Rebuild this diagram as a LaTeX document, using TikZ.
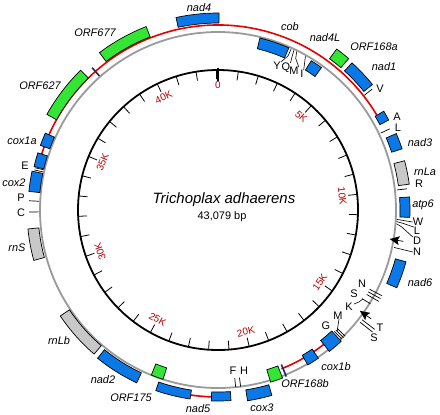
\documentclass[tikz,border=0pt]{standalone}
\usepackage{fontspec}
\setmainfont{Liberation Sans}
\definecolor{gblue}{HTML}{0A78E6}
\definecolor{ggreen}{HTML}{33E633}
\definecolor{grna}{HTML}{C8C8C8}
\definecolor{ringgray}{HTML}{9A9A9A}
\definecolor{ringred}{HTML}{E60000}
\definecolor{kred}{HTML}{B40000}
\definecolor{navybar}{HTML}{1A2A5A}
\newcommand\gb[5]{\filldraw[fill=#1,draw=black,line width=0.7pt] ({#2-90}:#4) arc[start angle={#2-90},end angle={#3-90},radius=#4] -- ({#3-90}:#5) arc[start angle={#3-90},end angle={#2-90},radius=#5] -- cycle;}
\newcommand\redarc[3]{\draw[ringred,line width=1.6pt] ({#1-90}:#3) arc[start angle={#1-90},end angle={#2-90},radius=#3];}
\newcommand\tk[3]{\draw[black,line width=0.7pt] ({#1-90}:#2) -- ({#1-90}:#3);}
\newcommand\amark[1]{\fill[black] ({#1-90}:174) -- ({#1-90+1.4}:184) -- ({#1-90}:182) -- ({#1-90-1.4}:184) -- cycle;
  \draw[black,line width=0.7pt] ({#1-90}:181) -- ({#1-90}:188);}
\begin{document}
\begin{tikzpicture}[x=1bp,y=-1bp,
  gene/.style={font=\fontsize{11}{13}\selectfont\itshape,inner sep=0pt},
  trna/.style={font=\fontsize{11}{13}\selectfont,inner sep=0pt},
  klab/.style={font=\fontsize{10}{12}\selectfont,text=kred,inner sep=0pt},
  lead/.style={black,line width=0.6pt}]
\useasboundingbox (0,0) rectangle (440,414);
\fill[white] (0,0) rectangle (440,414);
\begin{scope}[shift={(218,210)}]
  % inner scale circle
  \draw[black,line width=1.8pt] (0,0) circle[radius=140];
  \foreach \k in {0,...,43} {\draw[black,line width=0.8pt] ({\k*8.35673-90}:131) -- ({\k*8.35673-90}:140);}
  \draw[black,line width=1.2pt] (-90:129) -- (-90:142);
  \node[klab] (k0) at (-90:125) {0};
  \foreach \k/\r in {5/-41.78,10/-83.57,15/54.65,20/12.86,25/-28.92,30/109.29,35/67.51,40/25.72} {
    \node[klab,rotate=\r] (k\k) at ({\k*8.35673-90}:125) {\k K};
  }
  % rings
  \draw[ringgray,line width=1.8pt] (0,0) circle[radius=178];
  \redarc{287.6}{419.2}{185}
  \redarc{182}{188.4}{187}
  \redarc{141.8}{158.2}{171}
  % navy bars
  \draw[navybar,line width=1.6pt] (228.5:179) -- (228.5:190);
  \draw[navybar,line width=1.6pt] (67.7:167) -- (67.7:180);
  % outer genes
  \gb{gblue}{347.7}{360.3}{187}{197}
  \gb{ggreen}{323}{338.6}{186}{197}
  \gb{ggreen}{299.2}{315.5}{185}{196}
  \gb{gblue}{290}{294}{179}{189}
  \gb{gblue}{283.3}{287.6}{179}{189}
  \gb{gblue}{275.6}{281.8}{179}{190}
  \gb{grna}{254.7}{264.3}{180}{191}
  \gb{grna}{220.7}{236.1}{179}{190}
  \gb{gblue}{205.2}{219.1}{180}{191}
  \gb{gblue}{188.4}{199}{182}{191}
  \gb{gblue}{176.1}{182}{182}{191}
  \gb{gblue}{163.8}{171.2}{182}{193}
  \gb{gblue}{105.4}{113.5}{184}{195}
  \gb{gblue}{86.1}{92.2}{182}{192}
  \gb{grna}{75.2}{82.3}{182}{193}
  \gb{gblue}{66.8}{71.6}{183}{194}
  \gb{gblue}{59.2}{62.2}{183}{193}
  \gb{gblue}{42.3}{50.9}{188}{199}
  \gb{ggreen}{36.4}{40.8}{188}{200}
  % inner genes
  \gb{gblue}{13.7}{23.6}{166}{177}
  \gb{gblue}{32}{36}{165}{176}
  \gb{ggreen}{198}{202}{166}{178}
  \gb{ggreen}{159}{163}{167}{180}
  \gb{gblue}{145.9}{149.9}{168}{179}
  \gb{gblue}{136.8}{141.8}{166}{180}
  % tRNA ticks outer
  \tk{282.3}{179}{188}
  \tk{283.0}{179}{188}
  \tk{272.8}{179}{189}
  \tk{269.4}{179}{189}
  \tk{51.9}{186}{196}
  \tk{64.7}{180}{190}
  \tk{83.6}{180}{190}
  \tk{127.3}{181}{197}
  \tk{128.3}{181}{197}
  % N S K ticks (bottom right)
  \tk{117.6}{171}{185}
  \tk{118.6}{171}{185}
  \tk{119.6}{171}{185}
  \tk{121.6}{169}{179}
  % inner ticks
  \tk{174.3}{169}{178}
  \tk{172.7}{169}{178}
  \tk{134.8}{168}{179}
  \tk{135.5}{168}{179}
  \tk{136.2}{168}{179}
  % arrowheads
  \amark{99.6}
  \amark{125.4}
  % coordinates for leaders
  \coordinate (kend) at ({121.6-90}:170);
  \coordinate (mend) at ({135.5-90}:170);
  \coordinate (wst) at ({93.0-90}:179);
  \coordinate (lst) at ({93.7-90}:179);
  \coordinate (dst) at ({94.4-90}:179);
  \coordinate (nst) at ({102-90}:180);
  \coordinate (yst) at ({24.4-90}:177);
  \coordinate (qst) at ({25.4-90}:177);
  \coordinate (mst) at ({26.4-90}:177);
  \coordinate (ist) at ({29.6-90}:177);
\end{scope}
% center text
\node[font=\fontsize{15}{17}\selectfont\itshape,inner sep=0pt] (title) at (224,200) {Trichoplax adhaerens};
\node[font=\fontsize{11}{13}\selectfont,inner sep=0pt] (size) at (222,217) {43,079 bp};
% gene labels
\node[gene] (lnad4) at (199,8) {nad4};
\node[gene] (lorf677) at (95,33) {ORF677};
\node[gene] (lorf627) at (40,86) {ORF627};
\node[gene] (lcox1a) at (22,141) {cox1a};
\node[gene] (lcox2) at (14,183) {cox2};
\node[gene] (lrns) at (17,248) {rnS};
\node[gene] (lrnlb) at (59,341) {rnLb};
\node[gene] (lnad2) at (103,380) {nad2};
\node[gene] (lorf175) at (131,398) {ORF175};
\node[gene] (lnad5) at (198,409) {nad5};
\node[gene] (lcox3) at (262,408) {cox3};
\node[gene] (lorf168b) at (305,384) {ORF168b};
\node[gene] (lcox1b) at (336,367) {cox1b};
\node[gene] (lnad6) at (420,283) {nad6};
\node[gene] (latp6) at (423,205) {atp6};
\node[gene] (lrnla) at (425,172) {rnLa};
\node[gene] (lnad3) at (420,143) {nad3};
\node[gene] (lnad1) at (384,67) {nad1};
\node[gene] (lorf168a) at (374,47) {ORF168a};
\node[gene] (lnad4l) at (325,38) {nad4L};
\node[gene] (lcob) at (290,27) {cob};
% tRNA labels
\node[trna] (tE) at (25,166) {E};
\node[trna] (tP) at (21,198) {P};
\node[trna] (tC) at (21,213) {C};
\node[trna] (tF) at (233,371) {F};
\node[trna] (tH) at (244,371) {H};
\node[trna] (tG) at (326,326) {G};
\node[trna] (tM2) at (338,316) {M};
\node[trna] (tK) at (349,307) {K};
\node[trna] (tS1) at (354,294) {S};
\node[trna] (tN1) at (362,284) {N};
\node[trna] (tT) at (380,328) {T};
\node[trna] (tS2) at (374,338) {S};
\node[trna] (tN2) at (417,252) {N};
\node[trna] (tD) at (417,241) {D};
\node[trna] (tL2) at (417,231) {L};
\node[trna] (tW) at (418,222) {W};
\node[trna] (tR) at (419,184) {R};
\node[trna] (tL1) at (398,128) {L};
\node[trna] (tA) at (397,117) {A};
\node[trna] (tV) at (380,89) {V};
\node[trna] (tY) at (277,66) {Y};
\node[trna] (tQ) at (286,68) {Q};
\node[trna] (tM1) at (294,71) {M};
\node[trna] (tI) at (302,74) {I};
% leaders
\draw[lead] (tK.north east) ++(1,1) -- ++(5,-2) -- (kend);
\draw[lead] (tM2.south) ++(1,-1) -- (mend);
\draw[lead] (wst) -- (tW.west);
\draw[lead] (lst) -- ++(7,2) -- (tL2.north west);
\draw[lead] (dst) -- ++(5,3) -- (tD.north west);
\draw[lead] (nst) -- (tN2.west);
\draw[lead] (yst) -- ++(-3,7) -- (tY.north east);
\draw[lead] (qst) -- ++(-2,7) -- (tQ.north east);
\draw[lead] (mst) -- ++(-1,7) -- (tM1.north east);
\draw[lead] (ist) -- (tI.north east);
\end{tikzpicture}
\end{document}
